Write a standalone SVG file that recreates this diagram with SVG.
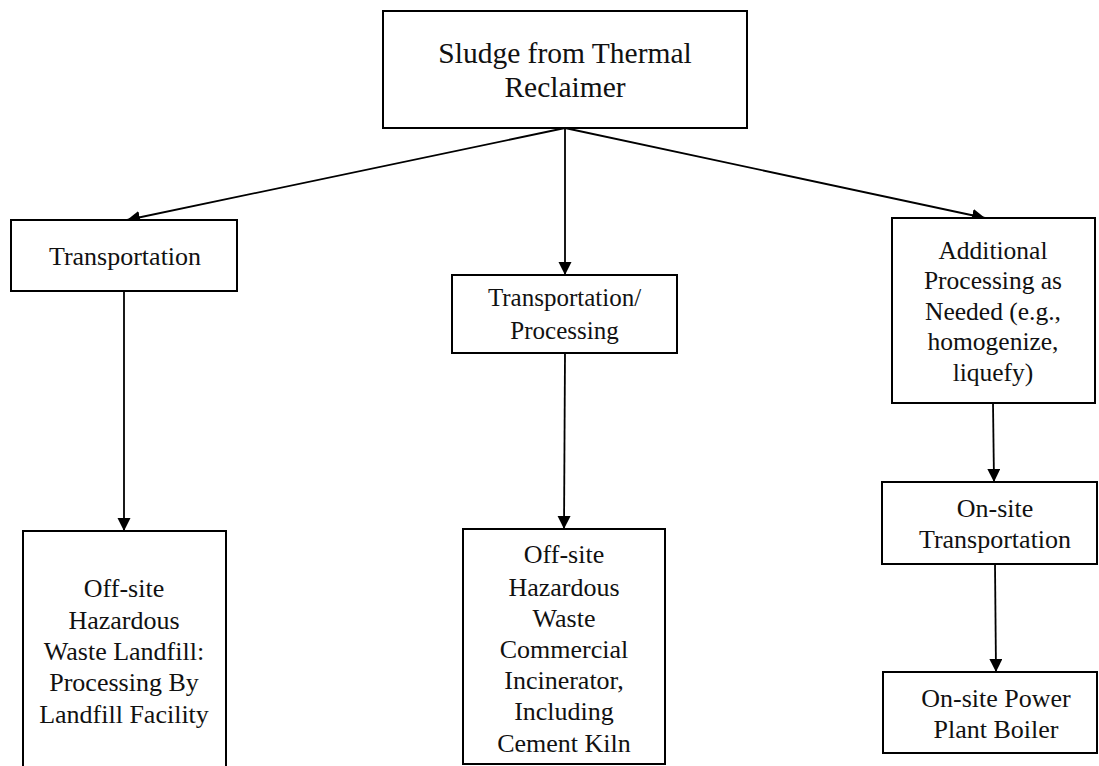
<svg xmlns="http://www.w3.org/2000/svg" width="1099" height="766" viewBox="0 0 1099 766">
<defs>
<marker id="ah" markerUnits="userSpaceOnUse" markerWidth="14" markerHeight="14" refX="13" refY="6.5" orient="auto">
<path d="M0,0 L13,6.5 L0,13 z" fill="#000"/>
</marker>
<style>
.box{fill:#fff;stroke:#000;stroke-width:2}
.t{font-family:"Liberation Serif","Times New Roman",serif;font-size:26px;fill:#111;text-anchor:middle}
.c{stroke:#000;stroke-width:1.8;fill:none;marker-end:url(#ah)}
</style>
</defs>
<rect width="1099" height="766" fill="#fff"/>
<g id="connectors">
<line class="c" x1="565" y1="128" x2="127" y2="220"/>
<line class="c" x1="565" y1="128" x2="565" y2="275"/>
<line class="c" x1="565" y1="128" x2="985" y2="218"/>
<line class="c" x1="124" y1="291" x2="124" y2="531"/>
<line class="c" x1="565" y1="353" x2="564" y2="529"/>
<line class="c" x1="993" y1="403" x2="994" y2="482"/>
<line class="c" x1="995" y1="564" x2="996" y2="672"/>
</g>
<g id="sludge">
<rect class="box" x="383" y="11" width="364" height="117"/>
<text class="t" style="font-size:29.5px" x="565" y="63">Sludge from Thermal</text>
<text class="t" style="font-size:29.5px" x="565" y="97">Reclaimer</text>
</g>
<g id="transportation">
<rect class="box" x="11" y="220" width="226" height="71"/>
<text class="t" x="125" y="265">Transportation</text>
</g>
<g id="transproc">
<rect class="box" x="452" y="275" width="225" height="78"/>
<text class="t" style="font-size:25px" x="564.5" y="306">Transportation/</text>
<text class="t" style="font-size:25px" x="564.5" y="339">Processing</text>
</g>
<g id="additional">
<rect class="box" x="892" y="218" width="203" height="185"/>
<text class="t" style="font-size:25.5px" x="993" y="259">Additional</text>
<text class="t" style="font-size:25.5px" x="993" y="289">Processing as</text>
<text class="t" style="font-size:25.5px" x="993" y="320">Needed (e.g.,</text>
<text class="t" style="font-size:25.5px" x="993" y="350">homogenize,</text>
<text class="t" style="font-size:25.5px" x="993" y="381">liquefy)</text>
</g>
<g id="landfill">
<rect class="box" x="23" y="531" width="203" height="245"/>
<text class="t" x="124" y="597">Off-site</text>
<text class="t" x="124" y="629">Hazardous</text>
<text class="t" x="124" y="660">Waste Landfill:</text>
<text class="t" x="124" y="691">Processing By</text>
<text class="t" x="124" y="723">Landfill Facility</text>
</g>
<g id="incinerator">
<rect class="box" x="463" y="529" width="202" height="235"/>
<text class="t" x="564" y="563">Off-site</text>
<text class="t" x="564" y="596">Hazardous</text>
<text class="t" x="564" y="627">Waste</text>
<text class="t" x="564" y="658">Commercial</text>
<text class="t" x="564" y="689">Incinerator,</text>
<text class="t" x="564" y="720">Including</text>
<text class="t" x="564" y="752">Cement Kiln</text>
</g>
<g id="onsite-transport">
<rect class="box" x="882" y="482" width="215" height="82"/>
<text class="t" x="995" y="517">On-site</text>
<text class="t" x="995" y="548">Transportation</text>
</g>
<g id="boiler">
<rect class="box" x="883" y="672" width="214" height="81"/>
<text class="t" x="996" y="707">On-site Power</text>
<text class="t" x="996" y="738">Plant Boiler</text>
</g>
</svg>
